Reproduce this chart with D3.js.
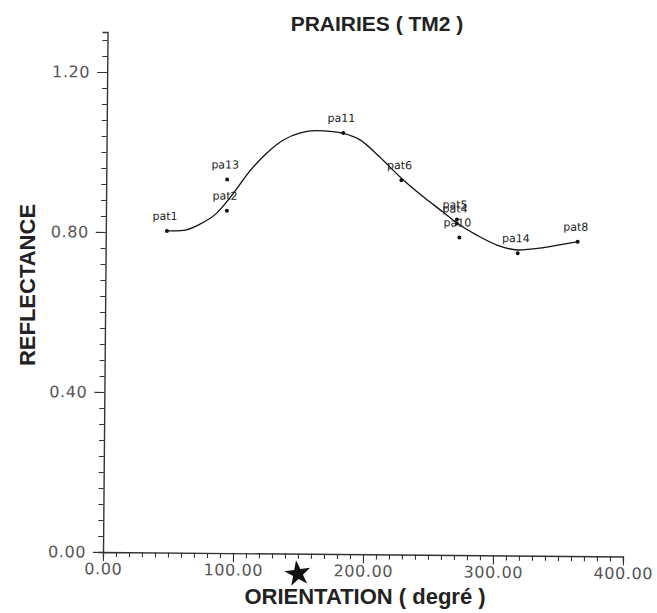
<!DOCTYPE html>
<html>
<head>
<meta charset="utf-8">
<script src="https://cdn.jsdelivr.net/npm/d3@7"></script>
<style>
  body { margin: 0; background: #fff; }
</style>
</head>
<body>
<svg id="chart" width="657" height="613"></svg>
<script>
// measured points (orientation, reflectance)
const pointNames = ["pat1", "pa13", "pat2", "pa11", "pat6", "pat5", "pat4", "pa10", "pa14", "pat8"];
const pointX = [47, 93, 93, 182, 227, 270, 270, 272, 317, 363];
const pointY = [0.804, 0.934, 0.856, 1.053, 0.936, 0.839, 0.829, 0.794, 0.756, 0.786];

// fitted curve
const curveX = [47, 60, 72, 85, 98, 110, 123, 136, 149, 161, 174, 182, 195, 210, 227, 244, 259, 270, 285, 301, 317, 334, 349, 363];
const curveY = [0.804, 0.806, 0.821, 0.849, 0.900, 0.954, 1.000, 1.034, 1.052, 1.058, 1.056, 1.052, 1.036, 0.994, 0.941, 0.895, 0.858, 0.830, 0.801, 0.776, 0.764, 0.769, 0.778, 0.786];

const xTicks = d3.range(0, 401, 10);
const yTicks = d3.range(0, 1.29, 0.04);
const starX = 150;

const svg = d3.select("#chart");
const x = d3.scaleLinear().domain([0, 400]).range([103, 623]);
const y = d3.scaleLinear().domain([0, 1.3]).range([552, 32]);
const fmt = d3.format(".2f");
const isMajorY = d => Math.abs(Math.round(d * 100) % 40) === 0;

// the scan is a little bit tilted
const g = svg.append("g").attr("transform", "rotate(0.5, 103, 552)");

const xAxis = g.append("g")
    .attr("transform", `translate(0,${y(0)})`)
    .call(d3.axisBottom(x)
      .tickValues(xTicks)
      .tickSize(5)
      .tickFormat(d => d % 100 === 0 ? fmt(d) : ""));

xAxis.selectAll(".tick line")
    .attr("y2", d => d % 100 === 0 ? 9 : 5);

const yAxis = g.append("g")
    .attr("transform", `translate(${x(0)},0)`)
    .call(d3.axisLeft(y)
      .tickValues(yTicks)
      .tickSize(5)
      .tickFormat(d => isMajorY(d) ? fmt(d) : ""));

yAxis.selectAll(".tick line")
    .attr("x2", d => isMajorY(d) ? -10 : -5);

g.selectAll(".domain")
    .attr("stroke", "#333")
    .attr("stroke-width", 1.4);
g.selectAll(".tick line")
    .attr("stroke", "#333")
    .attr("stroke-width", 1.1);

g.selectAll(".tick text")
    .style("font-family", "'DejaVu Sans'")
    .style("font-size", "16px")
    .style("letter-spacing", "0.6px")
    .attr("fill", "#555");
xAxis.selectAll(".tick text").attr("y", 11);
yAxis.selectAll(".tick text").attr("x", -17);

// curve
const line = d3.line()
    .x((d, i) => x(curveX[i]))
    .y(d => y(d))
    .curve(d3.curveMonotoneX);

g.append("path")
    .datum(curveY)
    .attr("fill", "none")
    .attr("stroke", "#111")
    .attr("stroke-width", 1.3)
    .attr("d", line);

// points and names
g.selectAll("circle.pt")
  .data(pointNames)
  .join("circle")
    .attr("class", "pt")
    .attr("cx", (d, i) => x(pointX[i]))
    .attr("cy", (d, i) => y(pointY[i]))
    .attr("r", 2)
    .attr("fill", "#111");

g.selectAll("text.lbl")
  .data(pointNames)
  .join("text")
    .attr("class", "lbl")
    .attr("x", (d, i) => x(pointX[i]) - 2)
    .attr("y", (d, i) => y(pointY[i]) - 11)
    .attr("text-anchor", "middle")
    .style("font-family", "'DejaVu Sans'")
    .style("font-size", "11px")
    .attr("fill", "#222")
    .text(d => d);

// star under the x axis
g.append("path")
    .attr("transform", `translate(${x(starX)},${y(0) + 20}) rotate(-8)`)
    .attr("d", d3.symbol(d3.symbolStar, 210)())
    .attr("fill", "#111");

// titles
svg.append("text")
    .attr("x", 377)
    .attr("y", 31)
    .attr("text-anchor", "middle")
    .style("font-family", "'Liberation Sans'")
    .style("font-weight", "bold")
    .style("font-size", "21px")
    .attr("fill", "#222")
    .text("PRAIRIES ( TM2 )");

svg.append("text")
    .attr("x", 365)
    .attr("y", 604)
    .attr("text-anchor", "middle")
    .style("font-family", "'Liberation Sans'")
    .style("font-weight", "bold")
    .style("font-size", "22px")
    .attr("fill", "#222")
    .text("ORIENTATION ( degré )");

svg.append("text")
    .attr("transform", "translate(35,285) rotate(-90)")
    .attr("text-anchor", "middle")
    .style("font-family", "'Liberation Sans'")
    .style("font-weight", "bold")
    .style("font-size", "22px")
    .attr("fill", "#222")
    .text("REFLECTANCE");
</script>
</body>
</html>
